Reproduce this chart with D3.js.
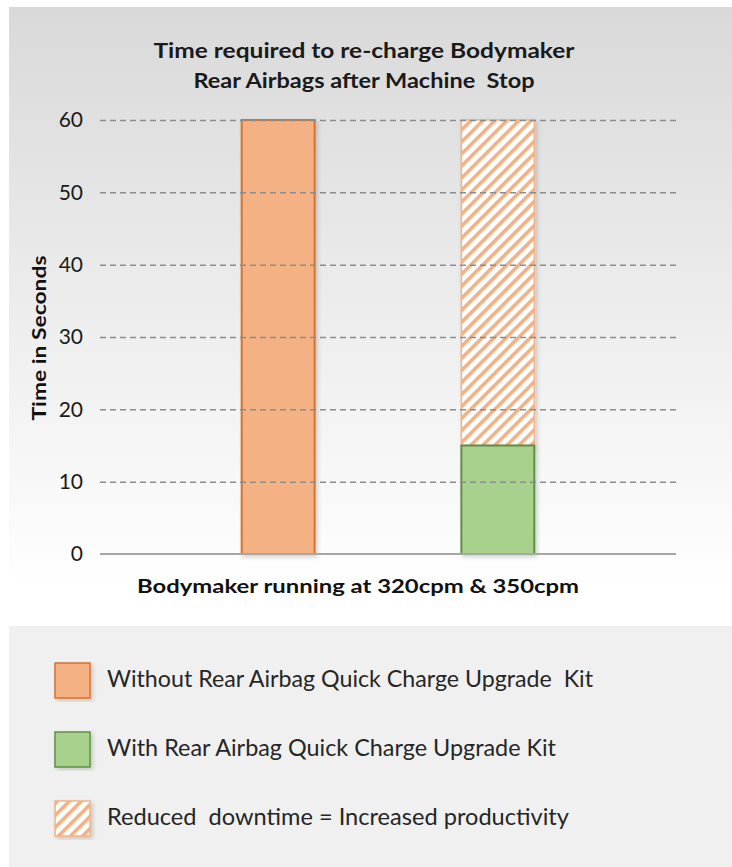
<!DOCTYPE html>
<html>
<head>
<meta charset="utf-8">
<script src="https://cdn.jsdelivr.net/npm/d3@7"></script>
<style>
  html, body { margin: 0; padding: 0; background: #fff; }
  svg { display: block; font-family: Lato, "Open Sans", sans-serif; }
  text { white-space: pre; }
</style>
</head>
<body>
<div id="chart"></div>
<script>
// data
const titleLines = ['Time required to re-charge Bodymaker', 'Rear Airbags after Machine  Stop'];
const xLabel = 'Bodymaker running at 320cpm & 350cpm';
const yLabel = 'Time in Seconds';
const yTicks = [0, 10, 20, 30, 40, 50, 60];
const barKeys = ['without', 'with'];
const withoutKit = [60];      // bar 1
const withKit = [15];         // bar 2, lower segment
const reducedDowntime = [45]; // bar 2, hatched segment on top
const legendLabels = [
  'Without Rear Airbag Quick Charge Upgrade  Kit',
  'With Rear Airbag Quick Charge Upgrade Kit',
  'Reduced  downtime = Increased productivity'
];

const width = 732, height = 867;
const plot = { left: 100, right: 676, top: 120, bottom: 554 };

const svg = d3.select('#chart').append('svg')
  .attr('width', width)
  .attr('height', height);

const defs = svg.append('defs');

const grad = defs.append('linearGradient')
  .attr('id', 'bg')
  .attr('x1', 0).attr('y1', 0).attr('x2', 0).attr('y2', 1);
grad.append('stop').attr('offset', '0%').attr('stop-color', '#d9d9d9');
grad.append('stop').attr('offset', '100%').attr('stop-color', '#ffffff');

const hatch = defs.append('pattern')
  .attr('id', 'hatch')
  .attr('patternUnits', 'userSpaceOnUse')
  .attr('width', 8.5).attr('height', 8.5)
  .attr('patternTransform', 'rotate(45)');
hatch.append('rect').attr('width', 8.5).attr('height', 8.5).attr('fill', '#fff');
hatch.append('rect').attr('width', 3.6).attr('height', 8.5).attr('fill', '#f4b183');

const shadow = defs.append('filter').attr('id', 'shadow')
  .attr('x', '-20%').attr('y', '-5%').attr('width', '150%').attr('height', '115%');
shadow.append('feDropShadow')
  .attr('dx', 2).attr('dy', 2).attr('stdDeviation', 2)
  .attr('flood-color', '#000').attr('flood-opacity', 0.18);

// panels
svg.append('rect')
  .attr('x', 9).attr('y', 7).attr('width', width - 9).attr('height', 580)
  .attr('fill', 'url(#bg)');

svg.append('rect')
  .attr('x', 9).attr('y', 626).attr('width', width - 9).attr('height', height - 626)
  .attr('fill', '#f0f0f0');

// title (the original is set wide, so stretch to its measured widths)
const titleWidths = [421, 341];
svg.append('g')
  .selectAll('text')
  .data(titleLines)
  .join('text')
  .attr('x', 364)
  .attr('y', (d, i) => 58 + i * 30)
  .attr('text-anchor', 'middle')
  .attr('font-size', 21)
  .attr('font-weight', 'bold')
  .attr('fill', '#1a1a1a')
  .attr('textLength', (d, i) => titleWidths[i])
  .attr('lengthAdjust', 'spacingAndGlyphs')
  .text(d => d);

const y = d3.scaleLinear().domain([0, 60]).range([plot.bottom, plot.top]);
const x = d3.scaleBand().domain(barKeys)
  .range([plot.left, plot.right])
  .paddingInner(0.668)
  .paddingOuter(0.645);

const g = svg.append('g');

// bars
g.append('rect')
  .attr('x', x('without'))
  .attr('y', y(withoutKit[0]))
  .attr('width', x.bandwidth())
  .attr('height', y(0) - y(withoutKit[0]))
  .attr('fill', '#f4b183')
  .attr('stroke', '#d9722b')
  .attr('stroke-width', 2)
  .attr('filter', 'url(#shadow)');

g.append('rect')
  .attr('x', x('with'))
  .attr('y', y(withKit[0] + reducedDowntime[0]))
  .attr('width', x.bandwidth())
  .attr('height', y(withKit[0]) - y(withKit[0] + reducedDowntime[0]))
  .attr('fill', 'url(#hatch)')
  .attr('stroke', '#f4b183')
  .attr('stroke-width', 1.5)
  .attr('filter', 'url(#shadow)');

g.append('rect')
  .attr('x', x('with'))
  .attr('y', y(withKit[0]))
  .attr('width', x.bandwidth())
  .attr('height', y(0) - y(withKit[0]))
  .attr('fill', '#a9d18e')
  .attr('stroke', '#5e9040')
  .attr('stroke-width', 2)
  .attr('filter', 'url(#shadow)');

// gridlines drawn over the bars, as in the original
const grid = svg.append('g')
  .attr('transform', `translate(${plot.left},0)`)
  .call(d3.axisLeft(y).tickValues(yTicks.slice(1))
    .tickSize(-(plot.right - plot.left)).tickFormat(''));
grid.select('.domain').remove();
grid.selectAll('.tick line')
  .attr('stroke', '#8c8c8c')
  .attr('stroke-width', 1.5)
  .attr('stroke-dasharray', '6,4');

// baseline
svg.append('line')
  .attr('x1', plot.left).attr('x2', plot.right)
  .attr('y1', y(0)).attr('y2', y(0))
  .attr('stroke', '#a6a6a6')
  .attr('stroke-width', 2);

// y tick labels
const yAxis = svg.append('g')
  .attr('transform', `translate(${plot.left},0)`)
  .call(d3.axisLeft(y).tickValues(yTicks).tickSize(0).tickPadding(17));
yAxis.select('.domain').remove();
yAxis.selectAll('text')
  .attr('font-family', 'Lato, sans-serif')
  .attr('font-size', 21)
  .attr('fill', '#1a1a1a');

// axis titles
svg.append('text')
  .attr('transform', 'translate(46,338) rotate(-90)')
  .attr('text-anchor', 'middle')
  .attr('font-size', 18)
  .attr('font-weight', 'bold')
  .attr('fill', '#111')
  .attr('textLength', 165)
  .attr('lengthAdjust', 'spacingAndGlyphs')
  .text(yLabel);

svg.append('text')
  .attr('x', 358).attr('y', 593)
  .attr('text-anchor', 'middle')
  .attr('font-size', 18)
  .attr('font-weight', 'bold')
  .attr('fill', '#111')
  .attr('textLength', 442)
  .attr('lengthAdjust', 'spacingAndGlyphs')
  .text(xLabel);

// legend
const legendFills = ['#f4b183', '#a9d18e', 'url(#hatch)'];
const legendStrokes = ['#d9722b', '#5e9040', '#f4b183'];
const legendWidths = [486, 449, 462];
const legend = svg.append('g')
  .selectAll('g')
  .data(legendLabels)
  .join('g')
  .attr('transform', (d, i) => `translate(55,${663 + i * 69})`);

legend.append('rect')
  .attr('width', 35).attr('height', 35)
  .attr('fill', (d, i) => legendFills[i])
  .attr('stroke', (d, i) => legendStrokes[i])
  .attr('stroke-width', 1.5)
  .attr('filter', 'url(#shadow)');

legend.append('text')
  .attr('x', 52).attr('y', 24)
  .attr('font-size', 23)
  .attr('fill', '#262626')
  .attr('textLength', (d, i) => legendWidths[i])
  .attr('lengthAdjust', 'spacingAndGlyphs')
  .text(d => d);
</script>
</body>
</html>
